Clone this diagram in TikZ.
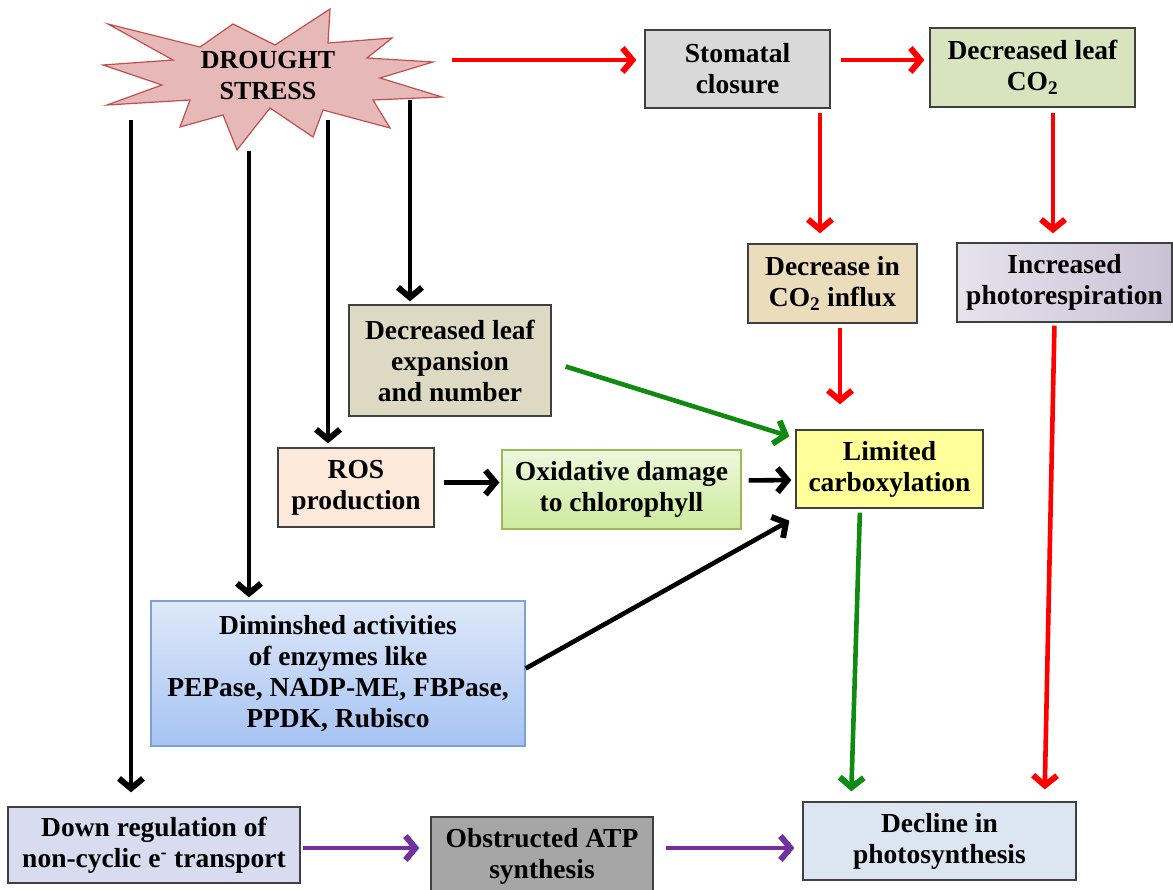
\documentclass[tikz,border=0pt]{standalone}
\usepackage{fontspec}
\setmainfont{Liberation Serif}
\usetikzlibrary{arrows.meta}

\definecolor{boxline}{HTML}{404040}
\definecolor{starfill}{HTML}{E6B9B8}
\definecolor{starline}{HTML}{C0504D}
\definecolor{arrpurple}{HTML}{7030A0}
\definecolor{arrgreen}{HTML}{108A10}
\definecolor{stomatalfill}{HTML}{D9D9D9}
\definecolor{leafcofill}{HTML}{D7E4BD}
\definecolor{influxfill}{HTML}{EBDDBB}
\definecolor{photoleft}{HTML}{E6E3EC}
\definecolor{photoright}{HTML}{C9C2D6}
\definecolor{leafexpfill}{HTML}{DDD9C3}
\definecolor{rosfill}{HTML}{FDE9D9}
\definecolor{oxidline}{HTML}{9BBB59}
\definecolor{oxidtop}{HTML}{EDF8DD}
\definecolor{oxidbottom}{HTML}{CDEA9C}
\definecolor{limitedfill}{HTML}{FFFF99}
\definecolor{diminline}{HTML}{7DA1D6}
\definecolor{dimintop}{HTML}{DEE8F9}
\definecolor{diminbottom}{HTML}{A6C3F3}
\definecolor{downregfill}{HTML}{D8DCF0}
\definecolor{atpfill}{HTML}{A6A6A6}
\definecolor{declinefill}{HTML}{DCE6F2}

\tikzset{
  box/.style={draw=boxline, line width=1.3pt, align=center, inner sep=0pt,
    font=\fontsize{27.5}{31}\selectfont\bfseries},
  arr/.style={line width=4.6pt, -{Straight Barb[length=10pt,width=24pt,line width=6pt]}},
  redarr/.style={arr, red},
  greenarr/.style={arr, arrgreen},
  blackarr/.style={arr, black},
  purplearr/.style={arr, arrpurple}
}

\begin{document}
\begin{tikzpicture}[x=1pt, y=-1pt]
\useasboundingbox (0,0) rectangle (1173,890);

% Draw the drought star
\draw[fill=starfill, draw=starline, line width=1.2pt]
  (108,24) -- (200,47) -- (233,24) -- (275,45) -- (330,9) -- (328,43)
  -- (392,38) -- (367,58) -- (433,62) -- (380,78) -- (442,97) -- (373,100)
  -- (390,128) -- (323,110) -- (313,137) -- (270,108) -- (237,150)
  -- (223,115) -- (180,127) -- (190,100) -- (107,105) -- (162,85)
  -- (103,65) -- (173,60) -- cycle;
\node[align=center, font=\fontsize{26}{31}\selectfont\bfseries] (stress) at (268,76) {DROUGHT\\STRESS};

% Boxes
\node[box, fill=stomatalfill, minimum width=185pt, minimum height=78pt] (stomatal) at (737.5,69) {Stomatal\\closure};
\node[box, fill=leafcofill, minimum width=205pt, minimum height=79pt] (leafco) at (1032.5,67.5) {Decreased leaf\\CO\textsubscript{2}};
\node[box, fill=influxfill, minimum width=169pt, minimum height=79pt] (influx) at (832.5,283.5) {Decrease in\\CO\textsubscript{2} influx};
\node[box, left color=photoleft, right color=photoright, minimum width=215pt, minimum height=79pt] (photo) at (1064.5,282.5) {Increased\\photorespiration};
\node[box, fill=leafexpfill, minimum width=202pt, minimum height=111pt] (leafexp) at (450,360.5) {Decreased leaf\\expansion\\and number};
\node[box, fill=rosfill, minimum width=156pt, minimum height=79pt] (ros) at (356,487.5) {ROS\\production};
\node[box, draw=oxidline, top color=oxidtop, bottom color=oxidbottom, minimum width=239pt, minimum height=79pt] (oxid) at (621.5,489.5) {Oxidative damage\\to chlorophyll};
\node[box, fill=limitedfill, minimum width=187pt, minimum height=78pt] (limited) at (889.5,469) {Limited\\carboxylation};
\node[box, draw=diminline, top color=dimintop, bottom color=diminbottom, minimum width=374pt, minimum height=145pt] (dimin) at (338,673.5) {Diminshed activities\\of enzymes like\\PEPase, NADP-ME, FBPase,\\PPDK, Rubisco};
\node[box, fill=downregfill, minimum width=292pt, minimum height=76pt] (downreg) at (154,845) {Down regulation of\\non-cyclic e\textsuperscript{-} transport};
\node[box, fill=atpfill, minimum width=222pt, minimum height=78pt] (atp) at (542,856) {Obstructed ATP\\synthesis};
\node[box, fill=declinefill, minimum width=273pt, minimum height=78pt] (decline) at (939.5,841) {Decline in\\photosynthesis};

% Free ends below the star
\coordinate (s0) at (452,60);
\coordinate (s1) at (131,120);
\coordinate (s2) at (249,151);
\coordinate (s3) at (328,120);
\coordinate (s4) at (410,100);
\coordinate (c1) at (820,0);
\coordinate (c2) at (1053,0);
\coordinate (c3) at (840,0);

% Red arrows
\draw[redarr, shorten >=8pt] (s0) -- (s0 -| stomatal.west);
\draw[redarr, shorten <=10pt, shorten >=5pt] (stomatal.east |- s0) -- (leafco.west |- s0);
\draw[redarr, shorten <=4pt, shorten >=10pt] (stomatal.south -| c1) -- (influx.north -| c1);
\draw[redarr, shorten <=5pt, shorten >=9pt] (leafco.south -| c2) -- (photo.north -| c2);
\draw[redarr, shorten <=4pt, shorten >=25pt] (influx.south -| c3) -- (limited.north -| c3);
\draw[redarr, shorten <=3pt, shorten >=12pt] ([xshift=-10pt]photo.south) -- ([xshift=105pt]decline.north);

% Green arrows
\draw[greenarr] ([xshift=14pt,yshift=-6pt]leafexp.east) -- ([xshift=-6pt,yshift=-7pt]limited.north west);
\draw[greenarr, shorten <=4pt, shorten >=10pt] ([xshift=-29.5pt]limited.south) -- ([xshift=-88.5pt]decline.north);

% Black arrows
\draw[blackarr, shorten >=14pt] (s1) -- (s1 |- downreg.north);
\draw[blackarr, shorten >=3pt] (s2) -- (s2 |- dimin.north);
\draw[blackarr, shorten >=4pt] (s3) -- (s3 |- ros.north);
\draw[blackarr, shorten >=3pt] (s4) -- (s4 |- leafexp.north);
\draw[blackarr, shorten <=9pt, shorten >=2pt] ([yshift=5pt]ros.east) -- ([yshift=7pt]oxid.west);
\draw[blackarr, shorten <=7pt, shorten >=4pt] ([yshift=9pt]oxid.east) -- ([yshift=-11pt]limited.west);
\draw[blackarr] ([yshift=5pt]dimin.east) -- ([xshift=-6pt,yshift=-12pt]limited.south west);

% Purple arrows
\draw[purplearr, shorten <=2pt, shorten >=11pt] ([yshift=-3pt]downreg.east) -- ([yshift=8pt]atp.west);
\draw[purplearr, shorten <=12pt, shorten >=8pt] ([yshift=8pt]atp.east) -- ([yshift=-7pt]decline.west);

\end{tikzpicture}
\end{document}
